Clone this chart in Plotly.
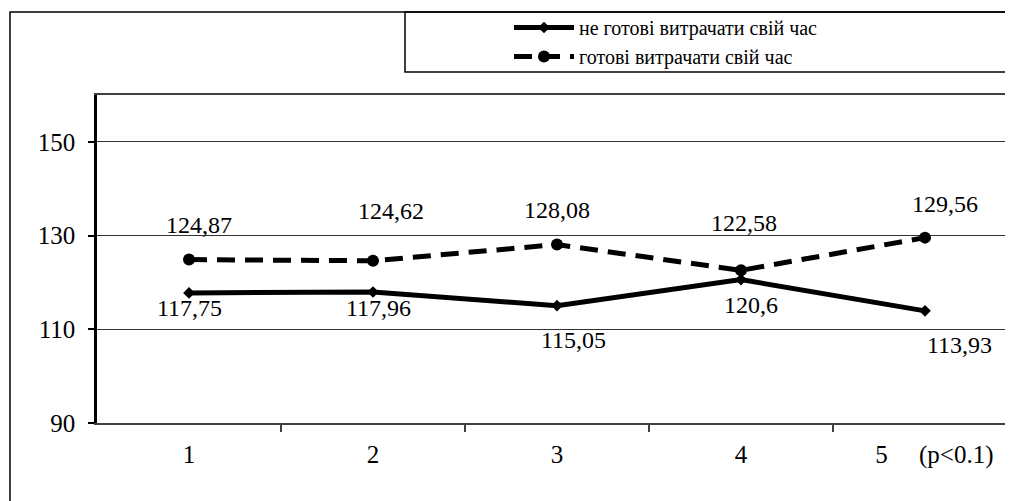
import plotly.graph_objects as go

categories = [1, 2, 3, 4, 5]
tick_labels = ["1", "2", "3", "4", "\u00a0\u00a0\u00a05\u00a0\u00a0\u00a0\u00a0\u00a0(p<0.1)"]
not_ready = [117.75, 117.96, 115.05, 120.6, 113.93]
ready = [124.87, 124.62, 128.08, 122.58, 129.56]
name_not_ready = "не готові витрачати свій час"
name_ready = "готові витрачати свій час"

# label offsets in pixels (x, y)
off_ready = [(10, 35), (18, 50), (0, 35), (3, 47), (20, 34)]
off_not_ready = [(0, -15), (5, -16), (16, -34), (10, -25), (34, -34)]

FONT = "Liberation Serif"
OFF = 8  # page body margin in the browser
W, H = 1013 - OFF, 501 - OFF
ML, MT, MB = 97 - OFF, 95 - OFF, 78
PW = W - ML
PH = H - MT - MB


def px2paper_x(p):
    return (p - OFF - ML) / PW


def px2paper_y(p):
    return (H - MB - (p - OFF)) / PH


fig = go.Figure()
fig.add_trace(go.Scatter(
    x=categories, y=not_ready, name=name_not_ready, mode="lines+markers",
    line=dict(color="black", width=5),
    marker=dict(symbol="diamond", size=9, color="black"),
    cliponaxis=False,
))
fig.add_trace(go.Scatter(
    x=categories, y=ready, name=name_ready, mode="lines+markers",
    line=dict(color="black", width=5, dash="18px,10px"),
    marker=dict(symbol="circle", size=12, color="black"),
    cliponaxis=False,
))


def fmt(v):
    return ("%g" % v).replace(".", ",")


annotations = []
for xv, yv, (dx, dy) in zip(categories, ready, off_ready):
    annotations.append(dict(x=xv, y=yv, xref="x", yref="y", text=fmt(yv), showarrow=False,
                            xshift=dx, yshift=dy, font=dict(family=FONT, size=24, color="black")))
for xv, yv, (dx, dy) in zip(categories, not_ready, off_not_ready):
    annotations.append(dict(x=xv, y=yv, xref="x", yref="y", text=fmt(yv), showarrow=False,
                            xshift=dx, yshift=dy, font=dict(family=FONT, size=24, color="black")))

shapes = [
    # outer frame
    dict(type="rect", xref="paper", yref="paper",
         x0=px2paper_x(10), x1=1.05, y0=-0.4, y1=px2paper_y(12),
         line=dict(color="black", width=1.5), fillcolor="rgba(0,0,0,0)", layer="above"),
    # legend box
    dict(type="rect", xref="paper", yref="paper",
         x0=px2paper_x(405), x1=1.05, y0=px2paper_y(72), y1=px2paper_y(12),
         line=dict(color="black", width=1.5), fillcolor="rgba(0,0,0,0)", layer="above"),
]

fig.update_layout(
    width=W, height=H,
    margin=dict(l=ML, r=0, t=MT, b=MB, pad=0),
    paper_bgcolor="white", plot_bgcolor="white",
    font=dict(family=FONT, color="black", size=25),
    showlegend=True,
    legend=dict(x=px2paper_x(509), y=px2paper_y(8), xanchor="left", yanchor="top",
                bgcolor="rgba(0,0,0,0)", borderwidth=0,
                font=dict(family=FONT, size=20, color="black"),
                tracegroupgap=0, itemwidth=60),
    annotations=annotations,
    shapes=shapes,
    xaxis=dict(
        range=[0.5, 5.5 - 4 / 184], tickmode="array", tickvals=categories, ticktext=tick_labels,
        ticks="", showgrid=False, zeroline=False,
        showline=True, linecolor="#404040", linewidth=2, mirror=True,
        tickfont=dict(family=FONT, size=25, color="black"),
        ticklabelstandoff=8,
        minor=dict(tickmode="array", tickvals=[1.5, 2.5, 3.5, 4.5], ticks="outside",
                   ticklen=7, tickwidth=2, tickcolor="#404040", showgrid=False),
    ),
    yaxis=dict(
        range=[90, 160], tickmode="array", tickvals=[90, 110, 130, 150],
        ticks="outside", ticklen=6, tickwidth=2, tickcolor="black",
        showgrid=True, gridcolor="#333333", gridwidth=1, zeroline=False,
        showline=True, linecolor="black", linewidth=2.5, mirror=False,
        tickfont=dict(family=FONT, size=25, color="black"),
        ticklabelstandoff=8,
    ),
)

fig.write_html("out.html")
